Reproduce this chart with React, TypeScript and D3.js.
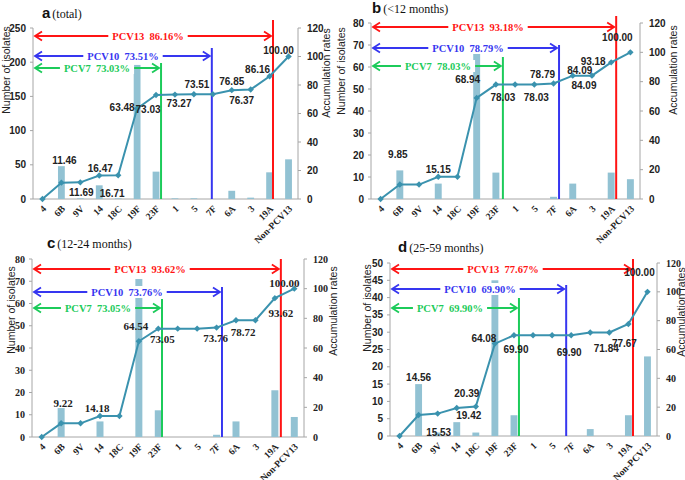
import React from "react";
import * as d3 from "d3";

const categories = ["4", "6B", "9V", "14", "18C", "19F", "23F", "1", "5", "7F", "6A", "3", "19A", "Non-PCV13"];

// isolate counts per serotype
const countsTotal = [0, 48, 1, 20, 1, 196, 40, 1, 1, 0, 12, 2, 39, 58];
const countsUnder12 = [0, 13, 0, 7, 0, 71, 12, 0, 0, 1, 7, 0, 12, 9];
const counts12to24 = [0, 13, 0, 7, 0, 71, 12, 0, 0, 1, 7, 0, 21, 9];
const counts25to59 = [0, 15, 1, 4, 1, 45, 6, 0, 0, 0, 2, 0, 6, 23];

// accumulation rates (%)
const cumTotal = [0, 11.46, 11.69, 16.47, 16.71, 63.48, 73.03, 73.27, 73.51, 73.51, 76.37, 76.85, 86.16, 100];
const cumUnder12 = [0, 9.85, 9.85, 15.15, 15.15, 68.94, 78.03, 78.03, 78.03, 78.79, 84.09, 84.09, 93.18, 100];
const cum12to24 = [0, 9.22, 9.22, 14.18, 14.18, 64.54, 73.05, 73.05, 73.05, 73.76, 78.72, 78.72, 93.62, 100];
const cum25to59 = [0, 14.56, 15.53, 19.42, 20.39, 64.08, 69.9, 69.9, 69.9, 69.9, 71.84, 71.84, 77.67, 100];

// point labels: [category, text]
const labelsTotal = [["6B", "11.46"], ["9V", "11.69"], ["14", "16.47"], ["18C", "16.71"], ["19F", "63.48"], ["23F", "73.03"], ["1", "73.27"], ["5", "73.51"], ["6A", "76.85"], ["3", "76.37"], ["19A", "86.16"], ["Non-PCV13", "100.00"]];
const labelsUnder12 = [["6B", "9.85"], ["14", "15.15"], ["19F", "68.94"], ["23F", "78.03"], ["5", "78.03"], ["7F", "78.79"], ["6A", "84.09"], ["3", "84.09"], ["19A", "93.18"], ["Non-PCV13", "100.00"]];
const labels12to24 = [["6B", "9.22"], ["14", "14.18"], ["19F", "64.54"], ["23F", "73.05"], ["7F", "73.76"], ["6A", "78.72"], ["19A", "93.62"], ["Non-PCV13", "100.00"]];
const labels25to59 = [["6B", "14.56"], ["9V", "15.53"], ["14", "19.42"], ["18C", "20.39"], ["19F", "64.08"], ["23F", "69.90"], ["7F", "69.90"], ["6A", "71.84"], ["19A", "77.67"], ["Non-PCV13", "100.00"]];

// vaccine coverage annotations: [name, coverage, last category]
const coverTotal = [["PCV13", "86.16%", "19A"], ["PCV10", "73.51%", "7F"], ["PCV7", "73.03%", "23F"]];
const coverUnder12 = [["PCV13", "93.18%", "19A"], ["PCV10", "78.79%", "7F"], ["PCV7", "78.03%", "23F"]];
const cover12to24 = [["PCV13", "93.62%", "19A"], ["PCV10", "73.76%", "7F"], ["PCV7", "73.05%", "23F"]];
const cover25to59 = [["PCV13", "77.67%", "19A"], ["PCV10", "69.90%", "7F"], ["PCV7", "69.90%", "23F"]];

const leftTicksTotal = [0, 50, 100, 150, 200, 250];
const leftTicks80 = [0, 10, 20, 30, 40, 50, 60, 70, 80];
const leftTicks50 = [0, 5, 10, 15, 20, 25, 30, 35, 40, 45, 50];
const rightTicks = [0, 20, 40, 60, 80, 100, 120];

const SANS = "'Liberation Sans', Arial, sans-serif";
const SERIF = "'Liberation Serif', 'Times New Roman', serif";
const LINE = "#3A92AE";
const BAR = "#92C2D3";
const AXIS = "#A6A6A6";
const COLORS = { PCV13: "#FF1414", PCV10: "#3636F0", PCV7: "#1CCB5A" };

const panels = [
  {
    letter: "a", sub: "(total)", counts: countsTotal, cum: cumTotal, labels: labelsTotal, cover: coverTotal,
    leftTicks: leftTicksTotal, leftMax: 250,
    L: 33, R: 298, T: 28, B: 199, titleX: 42, titleY: 18,
    numFont: SANS, tickFont: SANS, rightTickFont: SANS,
    leftTitleX: 10, leftTitleY: 70, rightTitleX: 330, rightTitleY: 73,
    labelOff: [[3, -22], [1, 10], [1, -7], [-6, 18], [-15, -1], [-8, 15], [4, 9], [3, -10], [0, -9], [-9, 11], [-12, -7], [-10, -6]],
    arrows: [{ y: 36, tx: 148, vx: 3.4, top: 20 }, { y: 56, tx: 123, vx: -1, top: 48 }, { y: 68, tx: 97, vx: 5, top: 63 }],
  },
  {
    letter: "b", sub: "(<12 months)", counts: countsUnder12, cum: cumUnder12, labels: labelsUnder12, cover: coverUnder12,
    leftTicks: leftTicks80, leftMax: 80,
    L: 371, R: 640, T: 23, B: 199, titleX: 372, titleY: 13,
    numFont: SANS, tickFont: SANS, rightTickFont: SANS,
    leftTitleX: 345, leftTitleY: 71, rightTitleX: 677, rightTitleY: 70,
    labelOff: [[-2, -30], [0, -7], [-9, -18], [7, 13], [2, 13], [-11, -9], [7, -5], [-8, 10], [-18, -1], [-13, -15]],
    arrows: [{ y: 27, tx: 488, vx: 5, top: 16 }, { y: 48, tx: 468, vx: 5.5, top: 45 }, { y: 66, tx: 438, vx: 7, top: 57 }],
  },
  {
    letter: "c", sub: "(12-24 months)", counts: counts12to24, cum: cum12to24, labels: labels12to24, cover: cover12to24,
    leftTicks: leftTicks80, leftMax: 80,
    L: 32, R: 304, T: 259, B: 437, titleX: 47, titleY: 248,
    numFont: SERIF, tickFont: SERIF, rightTickFont: SERIF,
    leftTitleX: 15, leftTitleY: 310, rightTitleX: 337, rightTitleY: 311,
    labelOff: [[2, -20], [-3, -8], [-3, -15], [4, 11], [-1, 11], [7, 12], [6, 15], [-10, -6]],
    arrows: [{ y: 269, tx: 150, vx: 6, top: 259 }, { y: 292, tx: 127, vx: 5.4, top: 287 }, { y: 308, tx: 98, vx: 3.7, top: 299 }],
  },
  {
    letter: "d", sub: "(25-59 months)", counts: counts25to59, cum: cum25to59, labels: labels25to59, cover: cover25to59,
    leftTicks: leftTicks50, leftMax: 50,
    L: 390, R: 657, T: 263, B: 436, titleX: 398, titleY: 252,
    numFont: SANS, tickFont: SANS, rightTickFont: SERIF,
    leftTitleX: 371, leftTitleY: 308, rightTitleX: 685, rightTitleY: 312,
    labelOff: [[0, -38], [1, 19], [12, 7], [-9, -13], [-11, -5], [2, 14], [-2, 17], [16, 16], [-4, 19], [-8, -19]],
    arrows: [{ y: 269, tx: 503, vx: 4.6, top: 259 }, { y: 289, tx: 480, vx: -5, top: 285 }, { y: 308, tx: 450, vx: 5, top: 298 }],
  },
];

function textWidth(s: string, size: number) {
  let w = 0;
  for (const ch of s) {
    if (ch === "%") w += 1.0;
    else if (ch === "." || ch === " " || ch === "\u00a0") w += 0.25;
    else if (/[0-9]/.test(ch)) w += 0.5;
    else if (ch === "P") w += 0.61;
    else w += 0.72;
  }
  return w * size;
}

function Panel({ p }: { p: any }) {
  const x = d3.scaleBand<string>().domain(categories).range([p.L, p.R]).padding(0);
  const bw = x.bandwidth();
  const cx = (c: string) => (x(c) as number) + bw / 2;
  const yL = d3.scaleLinear().domain([0, p.leftMax]).range([p.B, p.T]);
  const yR = d3.scaleLinear().domain([0, 120]).range([p.B, p.T]);
  const line = d3
    .line<number>()
    .x((_, i) => cx(categories[i]))
    .y((d) => yR(d));
  const barW = bw * 0.36;
  const fsz = 10.5;
  return (
    <g>
      {/* title */}
      <text x={p.titleX} y={p.titleY} fontFamily={SANS} fontWeight="bold" fontSize={15} fill="#111">
        {p.letter}
        <tspan fontFamily={SERIF} fontWeight="normal" fontSize={12} dx={2}>
          {p.sub}
        </tspan>
      </text>
      {/* axes */}
      <line x1={p.L} x2={p.L} y1={p.T} y2={p.B} stroke={AXIS} strokeWidth={1} />
      <line x1={p.R} x2={p.R} y1={p.T} y2={p.B} stroke={AXIS} strokeWidth={1} />
      <line x1={p.L} x2={p.R} y1={p.B} y2={p.B} stroke={AXIS} strokeWidth={1} />
      {p.leftTicks.map((t: number) => (
        <g key={"l" + t}>
          <line x1={p.L - 3} x2={p.L} y1={yL(t)} y2={yL(t)} stroke={AXIS} />
          <text x={p.L - 7} y={yL(t)} dy="0.35em" textAnchor="end" fontFamily={p.tickFont} fontWeight="bold" fontSize={10} fill="#222">
            {t}
          </text>
        </g>
      ))}
      {rightTicks.map((t) => (
        <g key={"r" + t}>
          <line x1={p.R} x2={p.R + 3} y1={yR(t)} y2={yR(t)} stroke={AXIS} />
          <text x={p.R + 9} y={yR(t)} dy="0.35em" textAnchor="start" fontFamily={p.rightTickFont} fontWeight="bold" fontSize={10} fill="#222">
            {t}
          </text>
        </g>
      ))}
      <text transform={`translate(${p.leftTitleX},${p.leftTitleY}) rotate(-90)`} textAnchor="middle" fontFamily={SANS} fontSize={10.5} fill="#222">
        Number of isolates
      </text>
      <text transform={`translate(${p.rightTitleX},${p.rightTitleY}) rotate(-90)`} textAnchor="middle" fontFamily={SANS} fontSize={10.5} fill="#222">
        Accumulation rates
      </text>
      {/* bars */}
      {p.counts.map((v: number, i: number) =>
        v > 0 ? (
          <rect key={"b" + i} x={cx(categories[i]) - barW / 2} y={yL(v)} width={barW} height={p.B - yL(v)} fill={BAR} />
        ) : null
      )}
      {/* x labels */}
      {categories.map((c) => (
        <text key={"x" + c} transform={`translate(${cx(c) + 2},${p.B + 8}) rotate(-45)`} textAnchor="end" dy="0.35em" fontFamily={SERIF} fontWeight="bold" fontSize={9.5} fill="#222">
          {c}
        </text>
      ))}
      {/* coverage arrows and vertical lines */}
      {p.cover.map((cv: string[], k: number) => {
        const a = p.arrows[k];
        const col = (COLORS as any)[cv[0]];
        const vx = cx(cv[2]) + a.vx;
        const x1 = p.L + 2;
        const x2 = vx - 2;
        const label = `${cv[0]}\u00a0\u00a0${cv[1]}`;
        const w = textWidth(label, fsz) + 8;
        return (
          <g key={"c" + k}>
            <line x1={vx} x2={vx} y1={a.top} y2={p.B} stroke={col} strokeWidth={2} />
            <line x1={x1} x2={x2} y1={a.y} y2={a.y} stroke={col} strokeWidth={1.8} />
            <path d={`M${x1 + 7},${a.y - 4.5} L${x1},${a.y} L${x1 + 7},${a.y + 4.5}`} fill="none" stroke={col} strokeWidth={1.8} />
            <path d={`M${x2 - 7},${a.y - 4.5} L${x2},${a.y} L${x2 - 7},${a.y + 4.5}`} fill="none" stroke={col} strokeWidth={1.8} />
            <rect x={a.tx - w / 2} y={a.y - 6} width={w} height={12} fill="#fff" />
            <text x={a.tx} y={a.y} dy="0.35em" textAnchor="middle" fontFamily={SERIF} fontWeight="bold" fontSize={fsz} fill={col}>
              {label}
            </text>
          </g>
        );
      })}
      {/* cumulative line */}
      <path d={line(p.cum) as string} fill="none" stroke={LINE} strokeWidth={2} />
      {p.cum.map((v: number, i: number) => {
        const px = cx(categories[i]);
        const py = yR(v);
        return <path key={"m" + i} d={`M${px},${py - 3.2} L${px + 3.2},${py} L${px},${py + 3.2} L${px - 3.2},${py} Z`} fill={LINE} />;
      })}
      {/* point labels */}
      {p.labels.map((lb: string[], i: number) => {
        const idx = categories.indexOf(lb[0]);
        const px = cx(lb[0]);
        const py = yR(p.cum[idx]);
        const [dx, dy] = p.labelOff[i];
        return (
          <text key={"t" + i} x={px + dx} y={py + dy} dy="0.35em" textAnchor="middle" fontFamily={p.numFont} fontWeight="bold" fontSize={p.numFont === SERIF ? 11 : 10} fill="#222">
            {lb[1]}
          </text>
        );
      })}
    </g>
  );
}

export default function App() {
  return (
    <svg width={685} height={480} style={{ position: "absolute", left: 0, top: 0, background: "#fff" }}>
      <rect width={685} height={480} fill="#fff" />
      {panels.map((p) => (
        <Panel key={p.letter} p={p} />
      ))}
    </svg>
  );
}
